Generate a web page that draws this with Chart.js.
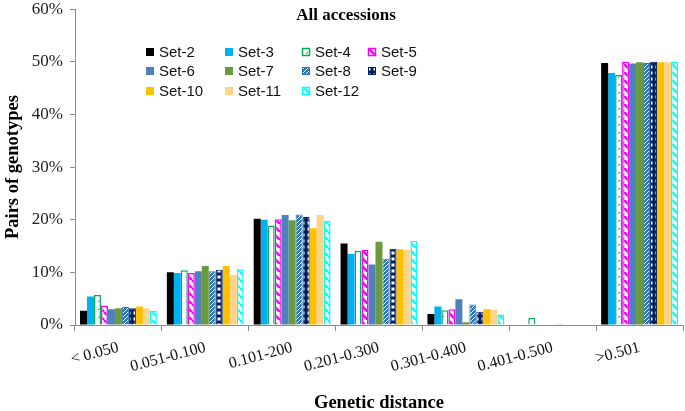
<!DOCTYPE html>
<html lang="en">
<head>
<meta charset="UTF-8">
<title>All accessions</title>
<script src="https://cdn.jsdelivr.net/npm/chart.js@4.4.0/dist/chart.umd.min.js"></script>
<style>
  html, body { margin: 0; padding: 0; background: #fff; }
  #wrap { width: 685px; height: 411px; position: relative; overflow: hidden; }
  #inner { position: absolute; left: 0; top: -8px; width: 685px; height: 419px; }
</style>
</head>
<body>
<div id="wrap"><div id="inner"><canvas id="grafico"></canvas></div></div>
<script>
    // categorias do eixo x
    const categorias = ['< 0.050', '0.051-0.100', '0.101-200', '0.201-0.300', '0.301-0.400', '0.401-0.500', '>0.501'];
    const nomesSeries = ['Set-2', 'Set-3', 'Set-4', 'Set-5', 'Set-6', 'Set-7', 'Set-8', 'Set-9', 'Set-10', 'Set-11', 'Set-12'];

    // valores em %
    const set2  = [2.7, 10.0, 20.2, 15.5, 2.1, 0,   49.8];
    const set3  = [5.4,  9.9, 20.0, 13.5, 3.5, 0,   47.9];
    const set4  = [5.7, 10.4, 18.9, 14.1, 2.8, 1.4, 47.5];
    const set5  = [3.7,  9.9, 20.1, 14.3, 3.0, 0,   50.0];
    const set6  = [3.0, 10.2, 20.9, 11.5, 4.9, 0,   49.7];
    const set7  = [3.2, 11.2, 19.9, 15.8, 0.5, 0,   49.9];
    const set8  = [3.4, 10.2, 21.0, 12.6, 3.9, 0.2, 49.8];
    const set9  = [3.2, 10.5, 20.5, 14.5, 2.5, 0,   50.0];
    const set10 = [3.5, 11.2, 18.4, 14.4, 3.0, 0,   49.9];
    const set11 = [3.2,  9.5, 20.9, 14.3, 2.9, 0,   49.9];
    const set12 = [2.7, 10.6, 19.8, 16.0, 2.0, 0,   50.0];

    const ticksY = [0, 10, 20, 30, 40, 50, 60];

    const valores = [set2, set3, set4, set5, set6, set7, set8, set9, set10, set11, set12];

    // padroes de preenchimento
    function criarPadrao(tam, desenhar) {
        const c = document.createElement('canvas');
        c.width = tam; c.height = tam;
        const g = c.getContext('2d');
        desenhar(g, tam);
        return g.createPattern(c, 'repeat');
    }

    function listras(cor, fundo, tam, larg, sentido) {
        return criarPadrao(tam, (g, s) => {
            g.fillStyle = fundo; g.fillRect(0, 0, s, s);
            g.strokeStyle = cor; g.lineWidth = larg;
            g.beginPath();
            if (sentido === '\\') {
                for (let k = -1; k <= 1; k++) { g.moveTo(k * s, 0); g.lineTo(k * s + s, s); }
            } else {
                for (let k = -1; k <= 1; k++) { g.moveTo(k * s, s); g.lineTo(k * s + s, 0); }
            }
            g.stroke();
        });
    }

    const padraoSet4 = criarPadrao(8, (g, s) => {
        g.fillStyle = '#fff'; g.fillRect(0, 0, s, s);
        g.strokeStyle = '#00B050'; g.lineWidth = 1;
        g.beginPath(); g.moveTo(2, 6); g.lineTo(4, 4); g.stroke();
    });
    const padraoSet5 = listras('#FF00FF', '#fff', 8, 2.6, '\\');
    const padraoSet8 = listras('#fff', '#2E75B6', 4, 1, '/');
    const padraoSet9 = criarPadrao(6, (g, s) => {
        g.fillStyle = '#002060'; g.fillRect(0, 0, s, s);
        g.fillStyle = '#fff'; g.fillRect(1.5, 1.5, 3, 3);
    });
    const padraoSet12 = listras('#00FFFF', '#fff', 8, 2.6, '\\');

    const fundos = ['#000000', '#00B0F0', padraoSet4, padraoSet5, '#4F81BD', '#6A9A3C', padraoSet8, padraoSet9, '#FFC000', '#FFD38A', padraoSet12];
    const bordas = ['#000000', '#00B0F0', '#00B050', '#FF00FF', '#4F81BD', '#6A9A3C', '#2E75B6', '#002060', '#FFC000', '#FFD38A', '#00FFFF'];
    const largBorda = [0, 0, 1.5, 1.5, 0, 0, 1, 1, 0, 0, 1.5];

    const datasets = nomesSeries.map((nome, i) => ({
        label: nome,
        data: valores[i],
        backgroundColor: fundos[i],
        borderColor: bordas[i],
        borderWidth: largBorda[i],
        barPercentage: 1,
        categoryPercentage: 0.885
    }));

    // titulo e legenda desenhados no canvas (canvas deslocado 8px para cima)
    const extras = {
        id: 'extras',
        afterDraw(chart) {
            const ctx = chart.ctx;
            ctx.save();
            ctx.translate(0, 8);
            ctx.fillStyle = '#000';
            ctx.font = 'bold 17px "Liberation Serif"';
            ctx.textAlign = 'center';
            ctx.textBaseline = 'middle';
            ctx.fillText('All accessions', 346, 16);

            const colX = [146, 225, 302, 368];
            const linY = [52, 71, 91];
            ctx.font = '15px "Liberation Sans"';
            ctx.textAlign = 'left';
            nomesSeries.forEach((nome, i) => {
                const x = colX[i % 4];
                const y = linY[Math.floor(i / 4)];
                const t = 8;
                ctx.fillStyle = fundos[i];
                ctx.fillRect(x, y - t / 2, t, t);
                if (largBorda[i] > 0) {
                    ctx.strokeStyle = bordas[i];
                    ctx.lineWidth = largBorda[i];
                    ctx.strokeRect(x + 0.5, y - t / 2 + 0.5, t - 1, t - 1);
                }
                ctx.fillStyle = '#111';
                ctx.fillText(nome, x + 13, y + 1);
            });
            ctx.restore();
        }
    };

    const config = {
        type: 'bar',
        data: { labels: categorias, datasets: datasets },
        options: {
            responsive: true,
            maintainAspectRatio: false,
            animation: false,
            layout: { padding: { top: 0, right: 2, left: 0, bottom: 0 } },
            plugins: {
                legend: { display: false },
                tooltip: { enabled: false }
            },
            scales: {
                x: {
                    afterFit(scale) { scale.height = 86; },
                    grid: { display: true, drawOnChartArea: false, tickLength: 6, color: '#8c8c8c' },
                    border: { display: true, color: '#8c8c8c' },
                    ticks: {
                        minRotation: 15, maxRotation: 15, padding: 7,
                        color: '#111',
                        font: { family: 'Liberation Serif', size: 16 }
                    },
                    title: {
                        display: true, text: 'Genetic distance', color: '#000',
                        padding: { top: 0, bottom: -3 },
                        font: { family: 'Liberation Serif', size: 18.5, weight: 'bold' }
                    }
                },
                y: {
                    min: 0, max: 60,
                    afterFit(scale) { scale.width = 75; },
                    afterBuildTicks(scale) { scale.ticks = ticksY.map(v => ({ value: v })); },
                    grid: { display: true, drawOnChartArea: false, tickLength: 5, color: '#8c8c8c' },
                    border: { display: true, color: '#8c8c8c' },
                    ticks: {
                        color: '#222', padding: 7,
                        font: { family: 'Liberation Serif', size: 17 },
                        callback: v => v + '%'
                    },
                    title: {
                        display: true, text: 'Pairs of genotypes', color: '#000',
                        padding: { top: 2, bottom: 0 },
                        font: { family: 'Liberation Serif', size: 18.5, weight: 'bold' }
                    }
                }
            }
        },
        plugins: [extras]
    };

    new Chart(document.getElementById('grafico'), config);
</script>
</body>
</html>
